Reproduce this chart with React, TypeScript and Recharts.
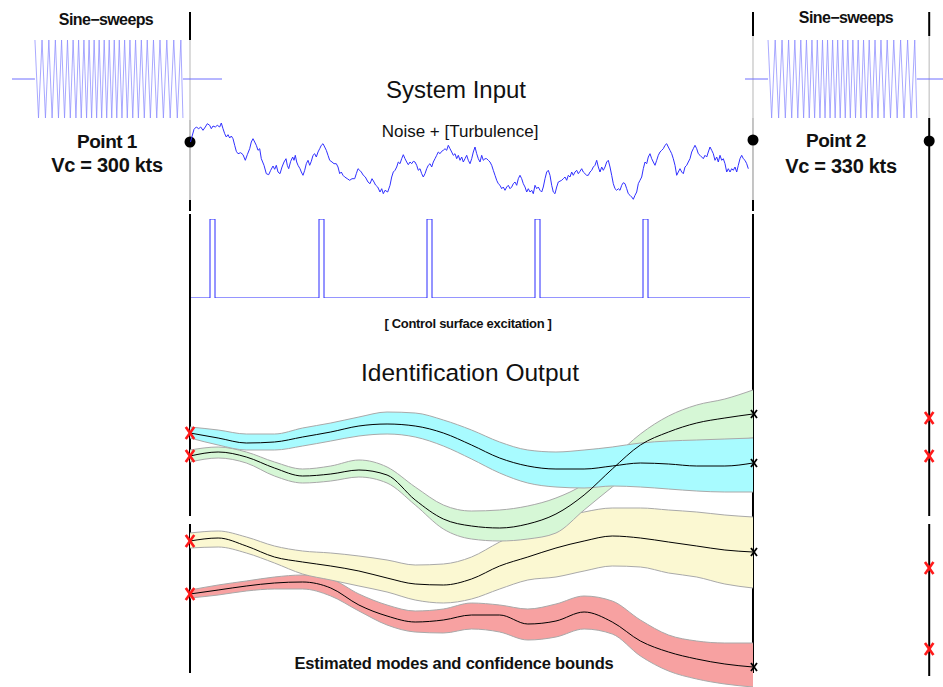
import React from 'react';
import { ComposedChart, Line, Area, Scatter, XAxis, YAxis, ReferenceLine } from 'recharts';

// ---- sine-sweep excitation (time in % of sweep), peaks alternate +1 / -1
const sweepPeaks = [
  0, 2.4, 4.8, 7.1, 9.4, 11.6, 13.8, 15.9, 18, 20, 22, 23.9, 25.8, 27.7, 29.5, 31.3, 33.1, 34.9,
  36.6, 38.3, 40, 41.7, 43.4, 45.1, 46.8, 48.5, 50.2, 51.9, 53.6, 55.3, 57, 58.8, 60.6, 62.4, 64.2,
  66.1, 68, 69.9, 71.9, 73.9, 75.9, 78, 80.1, 82.3, 84.5, 86.8, 89.1, 91.4, 93.8, 96.2, 98.6, 100,
];

// ---- system input: noise + turbulence, [time ms, amplitude]
const noiseSamples: [number, number][] = [
  [0.5, 16], [4, 28.7], [6.3, 31], [8.7, 29.3], [10.7, 31], [13, 27.7], [15.3, 31], [17.3, 34.3], [19.7, 32.7],
  [21.3, 29.3], [23, 32], [25.3, 31], [27.3, 32.7], [29.7, 31], [31.3, 35], [33, 29.3], [34.7, 24.3], [36.3, 21],
  [38, 23.3], [39.7, 20], [41.3, 22], [43, 19.3], [44.7, 12.7], [46.3, 6.7], [48, 4.3], [50.7, 5.3], [53, 3.3],
  [55.3, -2.3], [57.3, 3.3], [59.7, 9.3], [61.3, 16], [63, 19.3], [64.7, 16], [66.3, 12.7], [68, 7.7], [69.7, 9.3],
  [71.3, -0.7], [74, -7.3], [76.3, -15.7], [78.7, -16.7], [80.7, -12.3], [83, -8], [84.7, -11.3], [86.3, -7.3],
  [88, -14], [90, -15.7], [92, -9], [94, -4], [96, -0.7], [97.3, -7.3], [98.7, -10.7], [100.7, -3.3], [102.7, 1],
  [104, -2.3], [105.3, 2.7], [106.7, -4], [108, -7.3], [110, -10.7], [111.3, -14], [113, -17.3], [114.7, -12.3],
  [116.3, -5.7], [118, -2.3], [119.7, -7.3], [121.3, -3.3], [123, 2.7], [124.7, 4.3], [126.3, 1], [128, 6],
  [129.7, 9.3], [131.3, 12.7], [133, 14.3], [134.7, 11], [136.3, 7.7], [138, 2.7], [139.7, -2.3], [142, -4],
  [144, -5.7], [146.3, -5.7], [148, -9], [149.7, -15.7], [151.3, -14], [153, -17.3], [154.7, -19], [157.3, -20.7],
  [159.7, -22.3], [162, -20.7], [164.7, -20.7], [166.3, -15.7], [168, -10.7], [169.7, -12.3], [171.3, -14],
  [173.3, -17.3], [175.3, -19], [178, -24], [180, -25.7], [182, -20.7], [184, -24], [185.5, -27], [187.7, -29],
  [190, -34], [191.7, -30.7], [193.3, -35.7], [195, -32.3], [197.7, -34], [200, -27.3], [201.7, -19], [203.3, -14],
  [205, -12.3], [206.7, -9], [208.3, -4], [210, -5.7], [211.7, -0.7], [213.3, 3.3], [215, -0.7], [216.7, -4],
  [218.3, -6.7], [220, -4], [221.7, -5.7], [223.3, -3.3], [225, -4], [226.7, -7.3], [228.3, -12.3], [230, -10.7],
  [231.7, -15.7], [233.3, -19], [235, -15.7], [236.7, -10.7], [238.3, -7.3], [240, -5.7], [241.7, -9], [243.3, -4],
  [245, -0.7], [246.7, 2.7], [248.3, 6], [250, 4.3], [251.7, 6.7], [253.3, 7.7], [255, 9.3], [256.7, 7.7],
  [258.3, 12.7], [260, 9.3], [261.7, 6], [263.3, 2.7], [265, 4.3], [266.7, -0.7], [268.3, 2.7], [270, -2.3],
  [271.7, 1], [273.3, -4], [275, -0.7], [276.7, 2.7], [278.3, -2.3], [280, -5.7], [281.7, -0.7], [283.3, 6],
  [285, 11], [286.7, 4.3], [288.3, -0.7], [290, -4], [291.7, 2.7], [293.3, -2.3], [295, -0.7], [296.7, -0.7],
  [298.3, -2.3], [300, -4], [301.7, -7.3], [303.3, -12.3], [305, -17.3], [306.7, -22.3], [308.3, -25.7],
  [310, -27.3], [311.7, -30.7], [313.3, -29], [315, -32.3], [316.7, -29], [318.3, -27.3], [320, -30.7],
  [321.7, -29], [323.3, -25.7], [325, -24], [326.7, -27.3], [328.3, -20.7], [330, -17.3], [331.7, -20.7],
  [333.3, -25.7], [335, -29], [336.7, -34], [338.3, -30.7], [340, -34], [341.7, -32.3], [343.3, -35.7],
  [345, -27.3], [346.7, -30.7], [348.3, -29], [350, -32.3], [351.7, -34], [353.3, -29], [355, -20.7],
  [356.7, -14], [358.3, -12.3], [360, -17.3], [361.7, -27.3], [363.3, -34], [365, -35.7], [366.7, -29],
  [368.3, -24], [371.7, -22.3], [373.3, -20.7], [375, -19], [376.7, -22.3], [378.3, -17.3], [380, -19],
  [381.7, -14], [383.3, -17.3], [385, -14], [386.7, -12.3], [388.3, -15.7], [390, -13.3], [391.7, -10.7],
  [393.3, -14], [395, -15.7], [396.7, -17.3], [398.3, -17.3], [400, -14], [401.7, -12.3], [403.3, -9], [405, -7.3],
  [406.7, -2.3], [408.3, -9], [410, -14], [411.7, -9], [413.3, -12.3], [415, -9], [416.7, -4], [418.3, -2.3],
  [420, -9], [421.7, -17.3], [423.3, -25.7], [425, -30.7], [426.7, -32.3], [428.3, -30.7], [430, -32.3],
  [431.7, -27.3], [433.3, -24.7], [435, -25.7], [436.7, -30.7], [438.3, -35.7], [440, -37.3], [441.7, -39],
  [443.3, -41.3], [445, -37.3], [446.7, -34], [448.3, -25.7], [450, -22.3], [451.7, -19], [453.3, -10.7],
  [455, -4], [456.7, -5.7], [458.3, 1], [460, 4.3], [461.7, -0.7], [463.3, -4], [465, -7.3], [466.7, -2.3],
  [468.3, 2.7], [470, 6], [471.7, 7.7], [473.3, 9.3], [475, 12.7], [476.7, 14.3], [478.3, 11], [480, 7.7],
  [481.7, 4.3], [483.3, -0.7], [485, -7.3], [486.7, -17.3], [488.3, -14], [490, -10.7], [491.7, -14],
  [493.3, -15.7], [495, -9], [496.7, -7.3], [498.3, -4], [500, -0.7], [501.7, 6], [503.3, 9.3], [505, 12.7],
  [506.7, 9.3], [508.3, 4.3], [510, 2.7], [511.7, 1], [513.3, -0.7], [515, 2.7], [516.7, 1], [518.3, 6], [520, 11],
  [521.7, 7.7], [523.3, 4.3], [525, -2.3], [526.7, 1], [528.3, -4], [530, 2.7], [531.7, -2.3], [533.3, -0.7],
  [535, -5.7], [536.7, -14], [538.3, -10.7], [540, -14], [541.7, -10.7], [543.3, -12.3], [545, -9], [546.7, -14],
  [548.3, -7.3], [550, -0.7], [551.7, 2.7], [553.3, -0.7], [555, -2.3], [556.7, -5.7], [558.3, -10.7],
];

// ---- control surface excitation: pulse [start, end] in ms
const pulseStart = [20, 129, 237, 345, 453];
const pulseEnd = [25, 134, 242, 350, 458];
const pulseSpan = [1, 560];

// ---- identification output: flight time (0 = Point 1, 100 = Point 2)
const modeTime = [0, 5, 10, 15, 20, 25, 30, 35, 40, 45, 50, 55, 60, 65, 70, 75, 80, 85, 90, 95, 100];
const cyanMid = [254, 249, 244, 245, 250, 255, 261, 263, 261, 254, 242, 229, 221, 218, 218, 221, 224, 223, 221, 221, 224];
const cyanHi = [260, 257, 253, 253, 259, 264, 270, 275, 274, 267, 257, 245, 237, 235, 237, 240, 244, 246, 247, 248, 249];
const cyanLo = [249, 242, 237, 237, 241, 246, 251, 253, 250, 241, 228, 214, 204, 200, 199, 201, 200, 198, 196, 195, 195];
const greenMid = [231, 235, 230, 219, 211, 213, 217, 212, 187, 168, 161, 159, 163, 173, 192, 218, 242, 255, 264, 269, 273];
const greenHi = [237, 240, 235, 225, 218, 221, 227, 220, 200, 182, 176, 177, 181, 189, 203, 228, 253, 271, 282, 288, 297];
const greenLo = [225, 229, 224, 211, 204, 206, 210, 204, 182, 158, 148, 146, 148, 154, 177, 200, 222, 236, 243, 246, 249];
const yellowMid = [146, 149, 141, 130, 125, 121, 116, 109, 103, 102, 108, 121, 130, 139, 146, 151, 149, 145, 141, 137, 135];
const yellowHi = [154, 156, 150, 141, 136, 134, 131, 127, 122, 123, 130, 145, 158, 168, 175, 179, 179, 177, 175, 172, 170];
const yellowLo = [139, 140, 134, 124, 113, 107, 101, 95, 87, 84, 88, 98, 107, 110, 116, 121, 120, 114, 110, 103, 99];
const redMid = [93, 97, 101, 104, 105, 99, 82, 71, 65, 67, 72, 72, 63, 66, 75, 65, 46, 35, 28, 23, 20];
const redHi = [97, 102, 106, 110, 112, 108, 93, 82, 76, 78, 84, 82, 78, 83, 91, 86, 67, 52, 46, 44, 44];
const redLo = [89, 92, 96, 98, 98, 91, 76, 62, 55, 54, 58, 55, 47, 50, 58, 53, 31, 16, 8, 3, 0];

// true modes at the next flight point
const nextPointTime = 131.3;
const nextPointModes = [269, 231, 119, 38];

const FONT = '"Liberation Sans", Arial, Helvetica, sans-serif';
const T_DOMAIN: [number, number] = [-33.75, 133.75];

const modeRows = modeTime.map((t, i) => ({
  t,
  cyanMid: cyanMid[i], cyanHi: cyanHi[i], cyanLo: cyanLo[i],
  greenMid: greenMid[i], greenHi: greenHi[i], greenLo: greenLo[i],
  yellowMid: yellowMid[i], yellowHi: yellowHi[i], yellowLo: yellowLo[i],
  redMid: redMid[i], redHi: redHi[i], redLo: redLo[i],
}));
const last = modeTime.length - 1;
const startMarks = [cyanMid[0], greenMid[0], yellowMid[0], redMid[0]].map((v) => ({ t: 0, v }));
const endMarks = [cyanMid[last], greenMid[last], yellowMid[last], redMid[last]].map((v) => ({ t: 100, v }));
const nextMarks = nextPointModes.map((v) => ({ t: nextPointTime, v }));

const noiseRows = noiseSamples.map(([t, a]) => ({ t, a }));

const pulseRows: { t: number; p: number }[] = [{ t: pulseSpan[0], p: 0 }];
pulseStart.forEach((s, i) => {
  pulseRows.push({ t: s, p: 0 }, { t: s, p: 1 }, { t: pulseEnd[i], p: 1 }, { t: pulseEnd[i], p: 0 });
});
pulseRows.push({ t: pulseSpan[1], p: 0 });

const RedCross = ({ cx, cy }: any) => (
  <g stroke="#ff1a1a" strokeWidth={2.6} strokeLinecap="square">
    <line x1={cx - 3.5} y1={cy - 5} x2={cx + 3.5} y2={cy + 5} />
    <line x1={cx + 3.5} y1={cy - 5} x2={cx - 3.5} y2={cy + 5} />
  </g>
);

const BlackCross = ({ cx, cy }: any) => (
  <g stroke="#000" strokeWidth={1.8}>
    <line x1={cx - 2} y1={cy - 4} x2={cx + 4} y2={cy + 4} />
    <line x1={cx + 4} y1={cy - 4} x2={cx - 2} y2={cy + 4} />
  </g>
);

const Dot = ({ cx, cy }: any) => <circle cx={cx} cy={cy} r={5.5} fill="#000" />;

function Text({ x, y, size, bold, children, spacing = 0 }: any) {
  return (
    <div
      style={{
        position: 'absolute', left: x, top: y, transform: 'translate(-50%, -50%)',
        fontFamily: FONT, fontSize: size, fontWeight: bold ? 700 : 400, letterSpacing: spacing,
        whiteSpace: 'nowrap', lineHeight: 1, color: '#111',
      }}
    >
      {children}
    </div>
  );
}

function SweepChart({ left, width, domain }: { left: number; width: number; domain: [number, number] }) {
  const rows: any[] = [
    { t: domain[0], base: 0 },
    { t: 0, base: 0 },
    ...sweepPeaks.map((t, i) => ({ t, sweep: i % 2 === 0 ? 1 : -1 })),
    { t: 100, base: 0 },
    { t: domain[1], base: 0 },
  ];
  return (
    <div style={{ position: 'absolute', left, top: 40 }}>
      <ComposedChart width={width} height={78} data={rows} margin={{ top: 0, right: 0, bottom: 0, left: 0 }}>
        <XAxis dataKey="t" type="number" domain={domain} hide />
        <YAxis type="number" domain={[-1, 1]} hide />
        <Line dataKey="sweep" stroke="#8c8cff" strokeOpacity={0.75} strokeWidth={1} dot={false} isAnimationActive={false} />
        <Line dataKey="base" stroke="#6f6fff" strokeWidth={1} dot={false} isAnimationActive={false} />
      </ComposedChart>
    </div>
  );
}

const postSegs = [
  { t: 0, from: 12, to: 40, c: '#000', w: 2 },
  { t: 0, from: 40, to: 120, c: '#cfcfcf', w: 1.5 },
  { t: 0, from: 120, to: 200, c: '#8a8a8a', w: 1 },
  { t: 0, from: 200, to: 211, c: '#000', w: 2 },
  { t: 0, from: 214, to: 516, c: '#000', w: 2 },
  { t: 0, from: 524, to: 673, c: '#000', w: 2 },
  { t: 100, from: 12, to: 36, c: '#000', w: 2 },
  { t: 100, from: 36, to: 118, c: '#cfcfcf', w: 1.5 },
  { t: 100, from: 118, to: 200, c: '#8a8a8a', w: 1 },
  { t: 100, from: 200, to: 211, c: '#000', w: 2 },
  { t: 100, from: 214, to: 673, c: '#000', w: 2 },
  { t: nextPointTime, from: 12, to: 36, c: '#000', w: 2 },
  { t: nextPointTime, from: 36, to: 118, c: '#cfcfcf', w: 1.5 },
  { t: nextPointTime, from: 118, to: 516, c: '#000', w: 2 },
  { t: nextPointTime, from: 524, to: 676, c: '#000', w: 2 },
];
const postDots = [
  { t: 0, y: 142 },
  { t: 100, y: 140 },
  { t: nextPointTime, y: 141 },
];

const bands = [
  { key: 'red', fill: '#f7a1a1' },
  { key: 'yellow', fill: '#fbf8d2' },
  { key: 'green', fill: '#d6f7d6' },
  { key: 'cyan', fill: '#a8fbff' },
];

export default function App() {
  return (
    <div style={{ position: 'relative', width: 943, height: 687, background: '#fff', overflow: 'hidden' }}>
      <style>{'body{margin:0}'}</style>

      {/* frame: flight-point posts */}
      <div style={{ position: 'absolute', left: 0, top: 0 }}>
        <ComposedChart width={943} height={687} margin={{ top: 0, right: 0, bottom: 0, left: 0 }}>
          <XAxis dataKey="t" type="number" domain={T_DOMAIN} hide />
          <YAxis type="number" domain={[0, 687]} reversed hide />
          {postSegs.map((s, i) => (
            <ReferenceLine
              key={i}
              segment={[{ x: s.t, y: s.from }, { x: s.t, y: s.to }]}
              stroke={s.c}
              strokeWidth={s.w}
              ifOverflow="visible"
            />
          ))}
          <Scatter data={postDots} dataKey="y" shape={<Dot />} isAnimationActive={false} />
        </ComposedChart>
      </div>

      <SweepChart left={12} width={210} domain={[-15.5, 126.4]} />
      <SweepChart left={745} width={198} domain={[-15.5, 117.6]} />

      {/* noise + turbulence */}
      <div style={{ position: 'absolute', left: 190, top: 112 }}>
        <ComposedChart width={563} height={92} data={noiseRows} margin={{ top: 0, right: 0, bottom: 0, left: 0 }}>
          <XAxis dataKey="t" type="number" domain={[0, 563]} hide />
          <YAxis type="number" domain={[-46, 46]} hide />
          <Line dataKey="a" type="linear" stroke="#3030ff" strokeWidth={1} dot={false} isAnimationActive={false} />
        </ComposedChart>
      </div>

      {/* control surface excitation */}
      <div style={{ position: 'absolute', left: 190, top: 219 }}>
        <ComposedChart width={563} height={79} data={pulseRows} margin={{ top: 0, right: 0, bottom: 0, left: 0 }}>
          <XAxis dataKey="t" type="number" domain={[0, 563]} hide />
          <YAxis type="number" domain={[0, 1]} hide />
          <Line dataKey="p" type="linear" stroke="#2a2aff" strokeWidth={1} dot={false} isAnimationActive={false} />
        </ComposedChart>
      </div>

      {/* identification output */}
      <div style={{ position: 'absolute', left: 0, top: 380 }}>
        <ComposedChart width={943} height={307} data={modeRows} margin={{ top: 0, right: 0, bottom: 0, left: 0 }}>
          <XAxis dataKey="t" type="number" domain={T_DOMAIN} hide />
          <YAxis type="number" domain={[0, 307]} hide />
          {bands.map((b) => (
            <Area
              key={b.key}
              dataKey={(d: any) => [d[b.key + 'Lo'], d[b.key + 'Hi']]}
              type="monotone"
              fill={b.fill}
              fillOpacity={1}
              stroke="#a9a9a9"
              strokeWidth={1}
              isAnimationActive={false}
            />
          ))}
          {bands.map((b) => (
            <Line
              key={b.key + 'Mid'}
              dataKey={b.key + 'Mid'}
              type="monotone"
              stroke="#000"
              strokeWidth={1}
              dot={false}
              isAnimationActive={false}
            />
          ))}
          <Scatter data={startMarks} dataKey="v" shape={<RedCross />} isAnimationActive={false} />
          <Scatter data={endMarks} dataKey="v" shape={<BlackCross />} isAnimationActive={false} />
          <Scatter data={nextMarks} dataKey="v" shape={<RedCross />} isAnimationActive={false} />
        </ComposedChart>
      </div>

      <Text x={106} y={20} size={16} bold spacing={-0.6}>Sine−sweeps</Text>
      <Text x={846} y={18} size={16} bold spacing={-0.6}>Sine−sweeps</Text>
      <Text x={456} y={90} size={24}>System Input</Text>
      <Text x={460} y={131} size={17}>Noise + [Turbulence]</Text>
      <Text x={107} y={141} size={19} bold spacing={-0.5}>Point 1</Text>
      <Text x={107} y={165} size={20} bold spacing={-0.3}>Vc = 300 kts</Text>
      <Text x={836} y={140} size={19} bold spacing={-0.5}>Point 2</Text>
      <Text x={841} y={166} size={20} bold spacing={-0.3}>Vc = 330 kts</Text>
      <Text x={468} y={323} size={13} bold spacing={-0.3}>[ Control surface excitation ]</Text>
      <Text x={470} y={373} size={24.5}>Identification Output</Text>
      <Text x={454} y={663} size={16.5} bold spacing={-0.2}>Estimated modes and confidence bounds</Text>
    </div>
  );
}
